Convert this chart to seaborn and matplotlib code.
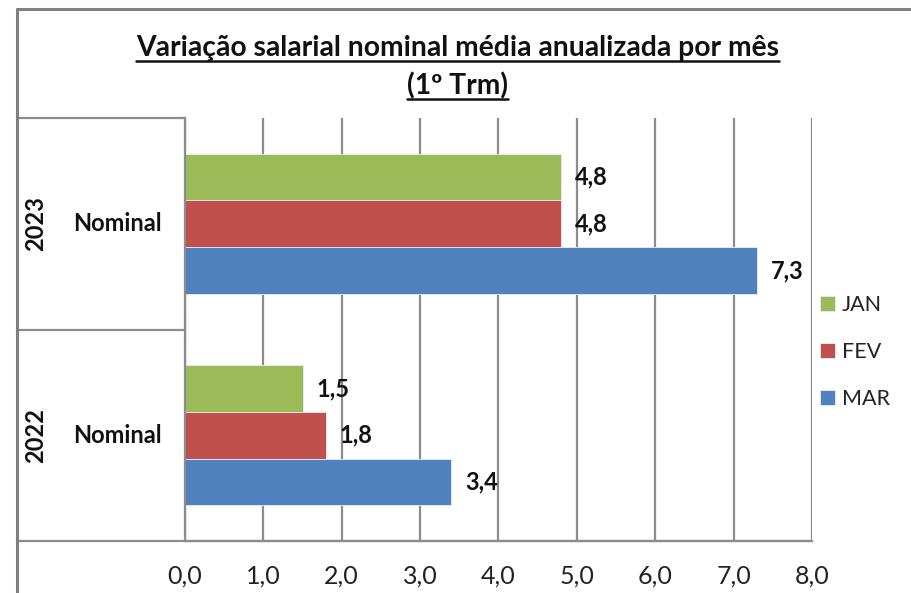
import matplotlib
matplotlib.use("Agg")
import matplotlib.pyplot as plt
import matplotlib.transforms as mtransforms
from matplotlib.lines import Line2D
import seaborn as sns
import pandas as pd

# ---- data ----
categories = ["2023 Nominal", "2022 Nominal"]
years = ["2023", "2022"]
measure = ["Nominal", "Nominal"]
months = ["JAN", "FEV", "MAR"]
jan = [4.8, 1.5]
fev = [4.8, 1.8]
mar = [7.3, 3.4]
xticks = [0, 1, 2, 3, 4, 5, 6, 7, 8]
title_lines = ["Variação salarial nominal média anualizada por mês", "(1º Trm)"]
colors = ["#9BBB59", "#C0504D", "#4F81BD"]

rows = []
for m, vals in zip(months, [jan, fev, mar]):
    for c, v in zip(categories, vals):
        rows.append({"cat": c, "month": m, "value": v})
df = pd.DataFrame(rows)

sns.set_theme(style="white")
plt.rcParams["font.family"] = ["Lato", "DejaVu Sans"]

W, H = 912, 593
fig = plt.figure(figsize=(W / 100, H / 100), dpi=100)
fig.patch.set_facecolor("white")

def fx(px):
    return px / W

def fy(py):
    return 1 - py / H

ax = fig.add_axes([fx(185), fy(541), fx(812) - fx(185), fy(118) - fy(541)])

sns.barplot(data=df, y="cat", x="value", hue="month", order=categories,
            hue_order=months, palette=colors, saturation=1, orient="h", width=0.664,
            edgecolor="#E8EEF7", linewidth=0.6, ax=ax, legend=True)

ax.set_xlim(0, 8)
ax.set_ylim(1.5, -0.5)
ax.set_xticks(xticks)
ax.set_xticklabels([f"{t:.1f}".replace(".", ",") for t in xticks],
                   fontsize=18, color="#222222")
ax.tick_params(axis="x", length=0, pad=17)
ax.set_yticks([])
ax.set_xlabel("")
ax.set_ylabel("")
ax.xaxis.grid(True, color="#8C8C8C", linewidth=1.6)
ax.set_axisbelow(True)
for s in ["top", "right"]:
    ax.spines[s].set_visible(False)
for s in ["left", "bottom"]:
    ax.spines[s].set_color("#8C8C8C")
    ax.spines[s].set_linewidth(1.6)

# bar value labels
for cont in ax.containers:
    ax.bar_label(cont, labels=[f"{b.get_width():.1f}".replace(".", ",") for b in cont],
                 padding=10, fontsize=17, fontweight="bold", color="#111111")

# legend
handles, labels = ax.get_legend_handles_labels()
ax.get_legend().remove()
fig.legend(handles, labels, loc="center left",
           bbox_to_anchor=(fx(820), fy(352)), frameon=False, fontsize=15.5,
           handlelength=0.7, handleheight=0.7, handletextpad=0.3,
           labelspacing=1.25, borderaxespad=0, borderpad=0)
for t in fig.legends[0].get_texts():
    t.set_color("#222222")

# category table (multi-level axis)
blend = mtransforms.blended_transform_factory(fig.transFigure, ax.transData)
for i, (yr, ms) in enumerate(zip(years, measure)):
    ax.text(fx(36), i, yr, transform=blend, rotation=90, ha="center", va="center",
            fontsize=17, fontweight="bold", color="#111111", clip_on=False)
    ax.text(fx(117), i, ms, transform=blend, ha="center", va="center",
            fontsize=17, fontweight="bold", color="#111111", clip_on=False)

lc = "#8C8C8C"
# lines of the table
for yv in [-0.5, 0.5]:
    ax.add_line(Line2D([fx(17), fx(185)], [yv, yv], transform=blend, color=lc,
                       linewidth=1.6, clip_on=False))
fig.add_artist(Line2D([fx(17), fx(812)], [fy(541), fy(541)], color=lc, linewidth=1.6))
# outer chart border
fig.add_artist(Line2D([fx(17), fx(17)], [fy(9), 0], color="#808080", linewidth=2.2))
fig.add_artist(Line2D([fx(17), 1], [fy(9), fy(9)], color="#808080", linewidth=2.2))

# title with underline
tys = [48, 86]
texts = []
for line, ty in zip(title_lines, tys):
    texts.append(fig.text(0.5 * (fx(137) + fx(778)), fy(ty), line, ha="center", va="center",
                          fontsize=20.3, fontweight="bold", color="#111111"))
fig.canvas.draw()
r = fig.canvas.get_renderer()
for t, ty in zip(texts, tys):
    bb = t.get_window_extent(r)
    x0, x1 = bb.x0 / W, bb.x1 / W
    yl = fy(ty + 13)
    fig.add_artist(Line2D([x0, x1], [yl, yl], color="#111111", linewidth=1.8))

fig.savefig("out.png", dpi=100)
